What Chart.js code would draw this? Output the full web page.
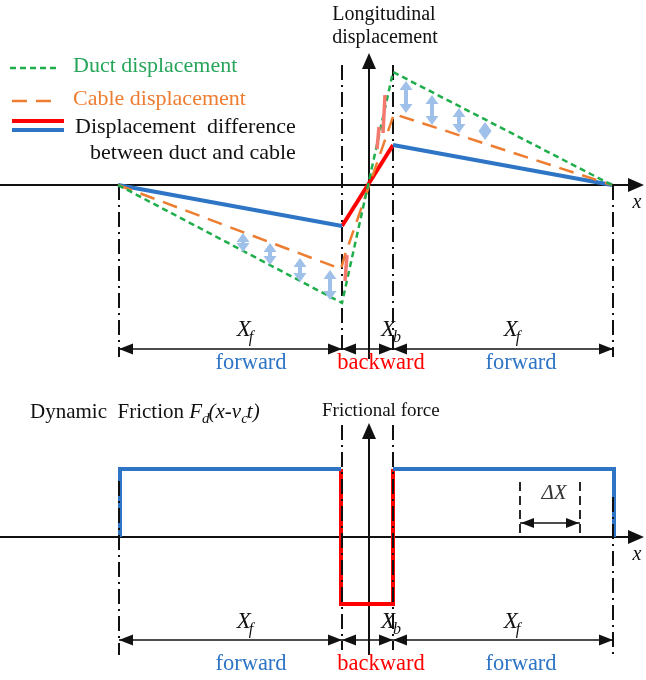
<!DOCTYPE html>
<html>
<head>
<meta charset="utf-8">
<script src="https://cdn.jsdelivr.net/npm/chart.js@4.4.0/dist/chart.umd.min.js"></script>
<style>
  body { margin: 0; background: #fff; }
  canvas { display: block; }
</style>
</head>
<body>
<canvas id="topChart" width="646" height="375"></canvas>
<canvas id="bottomChart" width="646" height="305"></canvas>
<script>
// Boundaries along x: start of forward zone, start/end of backward zone, end of forward zone
const boundsX = [-250, -27, 24, 244];
const zoneLabels = ['forward', 'backward', 'forward'];
const zoneLabelX = [-118, 12, 152];
const zoneSymbols = [['X', 'f'], ['X', 'b'], ['X', 'f']];
const zoneSymbolX = [-123, 23, 144];

// Top chart: longitudinal displacement
const ductX = [-251, -27, 24, 243];
const ductY = [0, -118, 113, 0];
const cableX = [-251, -28, -24, 25, 243];
const cableY = [0, -84, -70, 71, 0];
const diffLeftX = [-251, -27];
const diffLeftY = [0, -41];
const diffMidX = [-27, 24];
const diffMidY = [-41, 40];
const diffRightX = [24, 243];
const diffRightY = [40, 0];
// light blue gap arrows between duct and cable
const gapArrowX = [-126, -99, -69, -39, 37, 63, 90, 116];
const gapArrowTop = [-48, -58, -73, -85, 104, 90, 77, 63];
const gapArrowBottom = [-67, -80, -97, -115, 72, 60, 52, 45];
// red gap marks in the backward zone
const backArrowX = [-22, 10, 16];
const backArrowTop = [-70, 58, 90];
const backArrowBottom = [-96, 36, 52];

// Bottom chart: frictional force
const forceLeftX = [-249, -249, -28];
const forceLeftY = [0, 68, 68];
const forceMidX = [-28, -28, 24, 24];
const forceMidY = [68, -67, -67, 68];
const forceRightX = [24, 245, 245];
const forceRightY = [68, 68, 0];
const deltaX = [151, 211];

const legendLabels = ['Duct displacement', 'Cable displacement', 'Displacement  difference', 'between duct and cable'];

const GREEN = '#1fae4b';
const ORANGE = '#ed7d31';
const BLUE = '#2e75c6';
const RED = '#ff0000';
const SERIF = '"Liberation Serif", "Times New Roman", serif';

function pts(xs, ys) {
    return xs.map((x, i) => ({ x: x, y: ys[i] }));
}

function lineSet(xs, ys, color, width, dash) {
    return {
        data: pts(xs, ys),
        showLine: true,
        borderColor: color,
        borderWidth: width,
        borderDash: dash || [],
        pointRadius: 0,
        tension: 0,
        fill: false
    };
}

function head(ctx, x, y, ang, len, hw, color) {
    ctx.save();
    ctx.translate(x, y);
    ctx.rotate(ang);
    ctx.fillStyle = color;
    ctx.beginPath();
    ctx.moveTo(0, 0);
    ctx.lineTo(-len, -hw);
    ctx.lineTo(-len, hw);
    ctx.closePath();
    ctx.fill();
    ctx.restore();
}

function seg(ctx, x1, y1, x2, y2, color, width, dash) {
    ctx.save();
    ctx.strokeStyle = color;
    ctx.lineWidth = width;
    ctx.setLineDash(dash || []);
    ctx.beginPath();
    ctx.moveTo(x1, y1);
    ctx.lineTo(x2, y2);
    ctx.stroke();
    ctx.restore();
}

function text(ctx, str, x, y, size, color, align, style) {
    ctx.save();
    ctx.font = (style || '') + ' ' + size + 'px ' + SERIF;
    ctx.fillStyle = color;
    ctx.textAlign = align || 'center';
    ctx.textBaseline = 'middle';
    ctx.fillText(str, x, y);
    ctx.restore();
}

function symbolSub(ctx, base, sub, cx, cy, size) {
    ctx.save();
    ctx.fillStyle = '#111';
    ctx.textBaseline = 'middle';
    ctx.font = 'italic ' + size + 'px ' + SERIF;
    const w1 = ctx.measureText(base).width;
    ctx.font = 'italic ' + Math.round(size * 0.68) + 'px ' + SERIF;
    const w2 = ctx.measureText(sub).width;
    const x0 = cx - (w1 + w2) / 2;
    ctx.font = 'italic ' + size + 'px ' + SERIF;
    ctx.fillText(base, x0, cy);
    ctx.font = 'italic ' + Math.round(size * 0.68) + 'px ' + SERIF;
    ctx.fillText(sub, x0 + w1 - 2, cy + size * 0.35);
    ctx.restore();
}

function dashDot(ctx, x, y1, y2) {
    seg(ctx, x, y1, x, y2, '#111', 2, [15, 5, 2, 5]);
}

function dimension(ctx, xs, y) {
    for (let i = 0; i < xs.length - 1; i++) {
        const a = xs[i], b = xs[i + 1];
        seg(ctx, a, y, b, y, '#111', 1.6);
        head(ctx, a, y, Math.PI, 14, 5.5, '#111');
        head(ctx, b, y, 0, 14, 5.5, '#111');
    }
}

function axes(ctx, xo, yo, xLeft, xTip, yBottom, yTip) {
    seg(ctx, xLeft, yo, xTip - 10, yo, '#111', 2);
    head(ctx, xTip, yo, 0, 16, 7, '#111');
    seg(ctx, xo, yBottom, xo, yTip + 10, '#111', 2);
    head(ctx, xo, yTip, -Math.PI / 2, 16, 7, '#111');
}

function zoneText(ctx, sx, dimY, symY, labY) {
    const px = boundsX.map(v => sx.getPixelForValue(v));
    dimension(ctx, px, dimY);
    for (let i = 0; i < 3; i++) {
        symbolSub(ctx, zoneSymbols[i][0], zoneSymbols[i][1], sx.getPixelForValue(zoneSymbolX[i]), symY, 23);
        text(ctx, zoneLabels[i], sx.getPixelForValue(zoneLabelX[i]), labY, 22.5, i === 1 ? RED : BLUE);
    }
}

const topPlugin = {
    id: 'topDecor',
    beforeDatasetsDraw(chart) {
        const ctx = chart.ctx;
        const sx = chart.scales.x, sy = chart.scales.y;
        const X = v => sx.getPixelForValue(v), Y = v => sy.getPixelForValue(v);
        dashDot(ctx, X(boundsX[0]), Y(0), Y(-172));
        dashDot(ctx, X(boundsX[1]), Y(120), Y(-168));
        dashDot(ctx, X(boundsX[2]), Y(120), Y(-168));
        dashDot(ctx, X(boundsX[3]), Y(0), Y(-172));
        axes(ctx, X(0), Y(0), 0, 644, Y(-174), 53);
        text(ctx, 'x', 637, 203, 20, '#111', 'center', 'italic');
        text(ctx, 'Longitudinal', 384, 15, 20, '#111');
        text(ctx, 'displacement', 385, 38, 20, '#111');
    },
    afterDatasetsDraw(chart) {
        const ctx = chart.ctx;
        const sx = chart.scales.x, sy = chart.scales.y;
        const X = v => sx.getPixelForValue(v), Y = v => sy.getPixelForValue(v);
        gapArrowX.forEach((v, i) => {
            const x = X(v), t = Y(gapArrowTop[i]), b = Y(gapArrowBottom[i]);
            seg(ctx, x, t + 7, x, b - 7, '#9fc0e8', 4);
            head(ctx, x, t, -Math.PI / 2, 9, 6.5, '#9fc0e8');
            head(ctx, x, b, Math.PI / 2, 9, 6.5, '#9fc0e8');
        });
        backArrowX.forEach((v, i) => {
            seg(ctx, X(v), Y(backArrowTop[i]), X(v) - 2, Y(backArrowBottom[i]), '#f47a70', 3.5);
        });
        zoneText(ctx, sx, 349, 330, 363);

        // legend
        seg(ctx, 10, 68, 56, 68, GREEN, 2.5, [6, 4]);
        text(ctx, legendLabels[0], 73, 66, 22, '#27a55a', 'left');
        seg(ctx, 12, 101, 58, 101, ORANGE, 2.5, [15, 9]);
        text(ctx, legendLabels[1], 73, 99, 22, ORANGE, 'left');
        seg(ctx, 12, 121, 64, 121, RED, 4);
        seg(ctx, 12, 130, 64, 130, BLUE, 4);
        text(ctx, legendLabels[2], 75, 127, 22, '#111', 'left');
        text(ctx, legendLabels[3], 90, 153, 22, '#111', 'left');
    }
};

const bottomPlugin = {
    id: 'bottomDecor',
    beforeDatasetsDraw(chart) {
        const ctx = chart.ctx;
        const sx = chart.scales.x, sy = chart.scales.y;
        const X = v => sx.getPixelForValue(v), Y = v => sy.getPixelForValue(v);
        axes(ctx, X(0), Y(0), 0, 644, Y(-118), 48);
        text(ctx, 'x', 637, 180, 20, '#111', 'center', 'italic');
        text(ctx, 'Frictional force', 322, 36, 19, '#111', 'left');
        // Dynamic Friction F_d(x - v_c t)
        ctx.save();
        ctx.fillStyle = '#111';
        ctx.textBaseline = 'alphabetic';
        let x = 30;
        const base = 43;
        const parts = [
            ['Dynamic  Friction ', '', 0, 21],
            ['F', 'italic', 0, 21],
            ['d', 'italic', 5, 15],
            ['(x-v', 'italic', 0, 21],
            ['c', 'italic', 5, 15],
            ['t)', 'italic', 0, 21]
        ];
        parts.forEach(p => {
            ctx.font = p[1] + ' ' + p[3] + 'px ' + SERIF;
            ctx.fillText(p[0], x, base + p[2]);
            x += ctx.measureText(p[0]).width - (p[2] ? 1 : 0);
        });
        ctx.restore();
    },
    afterDatasetsDraw(chart) {
        const ctx = chart.ctx;
        const sx = chart.scales.x, sy = chart.scales.y;
        const X = v => sx.getPixelForValue(v), Y = v => sy.getPixelForValue(v);
        dashDot(ctx, X(boundsX[0]), Y(56), Y(-118));
        dashDot(ctx, X(boundsX[1]), Y(112), Y(-113));
        dashDot(ctx, X(boundsX[2]), Y(112), Y(-113));
        dashDot(ctx, X(boundsX[3]), Y(40), Y(-118));
        const d1 = X(deltaX[0]), d2 = X(deltaX[1]);
        seg(ctx, d1, Y(55), d1, Y(0), '#111', 1.8, [9, 5]);
        seg(ctx, d2, Y(55), d2, Y(0), '#111', 1.8, [9, 5]);
        seg(ctx, d1, Y(14), d2, Y(14), '#111', 1.6);
        head(ctx, d1 + 1, Y(14), Math.PI, 13, 5, '#111');
        head(ctx, d2 - 1, Y(14), 0, 13, 5, '#111');
        text(ctx, '\u0394X', (d1 + d2) / 2 + 4, Y(44), 21, '#333', 'center', 'italic');
        zoneText(ctx, sx, 265, 247, 289);
    }
};

new Chart(document.getElementById('topChart'), {
    type: 'scatter',
    data: {
        datasets: [
            lineSet(ductX, ductY, GREEN, 2.5, [6, 4]),
            lineSet(cableX, cableY, ORANGE, 2.5, [15, 9]),
            lineSet(diffLeftX, diffLeftY, BLUE, 4),
            lineSet(diffRightX, diffRightY, BLUE, 4),
            lineSet(diffMidX, diffMidY, RED, 4)
        ]
    },
    options: {
        responsive: false,
        animation: false,
        layout: { padding: 0 },
        plugins: { legend: { display: false }, tooltip: { enabled: false } },
        scales: {
            x: { type: 'linear', min: -369, max: 277, display: false },
            y: { type: 'linear', min: -190, max: 185, display: false }
        }
    },
    plugins: [topPlugin]
});

new Chart(document.getElementById('bottomChart'), {
    type: 'scatter',
    data: {
        datasets: [
            lineSet(forceLeftX, forceLeftY, BLUE, 4),
            lineSet(forceRightX, forceRightY, BLUE, 4),
            lineSet(forceMidX, forceMidY, RED, 4)
        ]
    },
    options: {
        responsive: false,
        animation: false,
        layout: { padding: 0 },
        plugins: { legend: { display: false }, tooltip: { enabled: false } },
        scales: {
            x: { type: 'linear', min: -369, max: 277, display: false },
            y: { type: 'linear', min: -143, max: 162, display: false }
        }
    },
    plugins: [bottomPlugin]
});
</script>
</body>
</html>
